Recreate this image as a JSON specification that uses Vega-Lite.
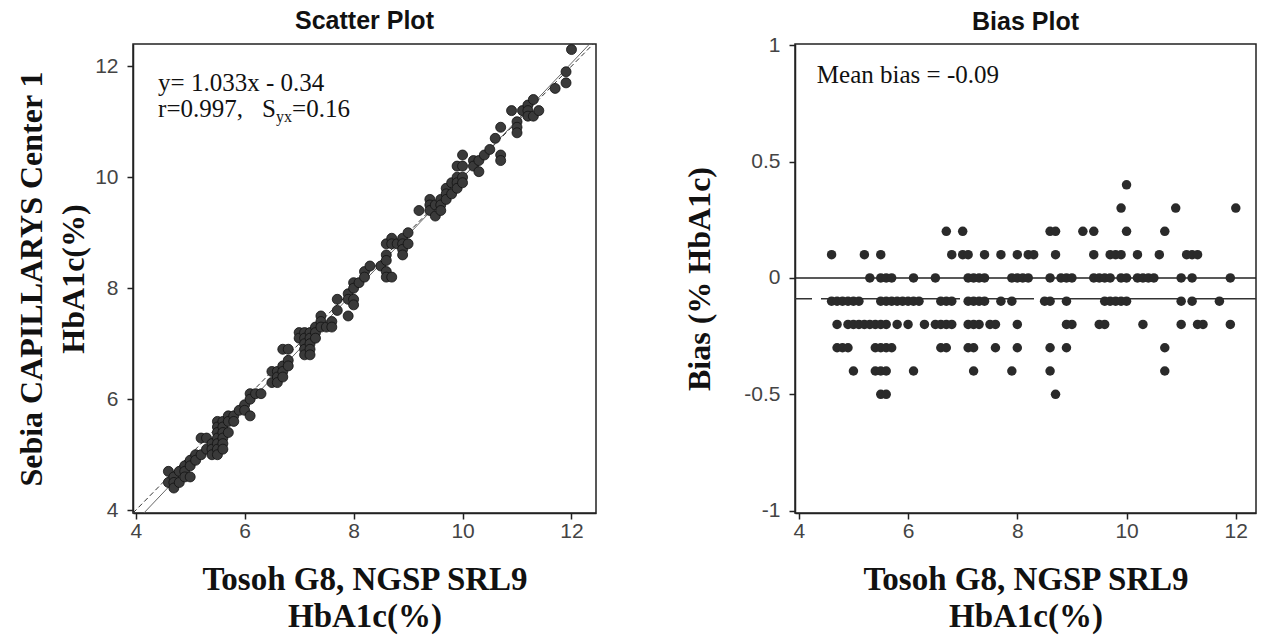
{
  "$schema": "https://vega.github.io/schema/vega-lite/v6.json",
  "background": "white",
  "padding": {"left": 14, "top": 8, "right": 5, "bottom": 5},
  "spacing": 86,
  "config": {
    "view": {"stroke": "#222", "strokeWidth": 1.5},
    "axis": {
      "grid": false,
      "labelFont": "Liberation Sans",
      "labelFontSize": 21,
      "labelColor": "#444",
      "labelPadding": 9,
      "tickSize": 6,
      "tickColor": "#222",
      "tickWidth": 1.5,
      "domainColor": "#222",
      "domainWidth": 1.5,
      "titleFont": "Liberation Serif",
      "titleFontSize": 32,
      "titleFontWeight": "bold",
      "titleColor": "#111",
      "titleLineHeight": 40,
      "labelFlush": false
    },
    "axisX": {"labelPadding": 1, "titlePadding": 22, "titleLineHeight": 37, "titleFontSize": 33},
    "text": {"font": "Liberation Serif", "fontSize": 25, "color": "#111", "align": "left", "baseline": "alphabetic"}
  },
  "datasets": {
    "pts": [
      {"tosoh": 10.0, "bias": 0.4, "sebia": 10.4},
      {"tosoh": 9.9, "bias": 0.3, "sebia": 10.2},
      {"tosoh": 10.9, "bias": 0.3, "sebia": 11.2},
      {"tosoh": 12.0, "bias": 0.3, "sebia": 12.3},
      {"tosoh": 6.7, "bias": 0.2, "sebia": 6.9},
      {"tosoh": 7.0, "bias": 0.2, "sebia": 7.2},
      {"tosoh": 8.6, "bias": 0.2, "sebia": 8.8},
      {"tosoh": 8.7, "bias": 0.2, "sebia": 8.9},
      {"tosoh": 9.2, "bias": 0.2, "sebia": 9.4},
      {"tosoh": 9.4, "bias": 0.2, "sebia": 9.6},
      {"tosoh": 10.0, "bias": 0.2, "sebia": 10.2},
      {"tosoh": 10.7, "bias": 0.2, "sebia": 10.9},
      {"tosoh": 4.6, "bias": 0.1, "sebia": 4.7},
      {"tosoh": 5.2, "bias": 0.1, "sebia": 5.3},
      {"tosoh": 5.5, "bias": 0.1, "sebia": 5.6},
      {"tosoh": 6.8, "bias": 0.1, "sebia": 6.9},
      {"tosoh": 7.0, "bias": 0.1, "sebia": 7.1},
      {"tosoh": 7.1, "bias": 0.1, "sebia": 7.2},
      {"tosoh": 7.4, "bias": 0.1, "sebia": 7.5},
      {"tosoh": 7.7, "bias": 0.1, "sebia": 7.8},
      {"tosoh": 8.0, "bias": 0.1, "sebia": 8.1},
      {"tosoh": 8.2, "bias": 0.1, "sebia": 8.3},
      {"tosoh": 8.3, "bias": 0.1, "sebia": 8.4},
      {"tosoh": 8.7, "bias": 0.1, "sebia": 8.8},
      {"tosoh": 9.4, "bias": 0.1, "sebia": 9.5},
      {"tosoh": 9.7, "bias": 0.1, "sebia": 9.8},
      {"tosoh": 9.8, "bias": 0.1, "sebia": 9.9},
      {"tosoh": 9.9, "bias": 0.1, "sebia": 10.0},
      {"tosoh": 10.2, "bias": 0.1, "sebia": 10.3},
      {"tosoh": 10.6, "bias": 0.1, "sebia": 10.7},
      {"tosoh": 11.1, "bias": 0.1, "sebia": 11.2},
      {"tosoh": 11.2, "bias": 0.1, "sebia": 11.3},
      {"tosoh": 11.3, "bias": 0.1, "sebia": 11.4},
      {"tosoh": 5.3, "bias": 0, "sebia": 5.3},
      {"tosoh": 5.5, "bias": 0, "sebia": 5.5},
      {"tosoh": 5.6, "bias": 0, "sebia": 5.6},
      {"tosoh": 5.7, "bias": 0, "sebia": 5.7},
      {"tosoh": 6.1, "bias": 0, "sebia": 6.1},
      {"tosoh": 6.5, "bias": 0, "sebia": 6.5},
      {"tosoh": 7.1, "bias": 0, "sebia": 7.1},
      {"tosoh": 7.2, "bias": 0, "sebia": 7.2},
      {"tosoh": 7.3, "bias": 0, "sebia": 7.3},
      {"tosoh": 7.4, "bias": 0, "sebia": 7.4},
      {"tosoh": 7.9, "bias": 0, "sebia": 7.9},
      {"tosoh": 8.0, "bias": 0, "sebia": 8.0},
      {"tosoh": 8.1, "bias": 0, "sebia": 8.1},
      {"tosoh": 8.2, "bias": 0, "sebia": 8.2},
      {"tosoh": 8.6, "bias": 0, "sebia": 8.6},
      {"tosoh": 8.8, "bias": 0, "sebia": 8.8},
      {"tosoh": 8.9, "bias": 0, "sebia": 8.9},
      {"tosoh": 9.0, "bias": 0, "sebia": 9.0},
      {"tosoh": 9.4, "bias": 0, "sebia": 9.4},
      {"tosoh": 9.5, "bias": 0, "sebia": 9.5},
      {"tosoh": 9.6, "bias": 0, "sebia": 9.6},
      {"tosoh": 9.7, "bias": 0, "sebia": 9.7},
      {"tosoh": 9.9, "bias": 0, "sebia": 9.9},
      {"tosoh": 10.0, "bias": 0, "sebia": 10.0},
      {"tosoh": 10.2, "bias": 0, "sebia": 10.2},
      {"tosoh": 10.3, "bias": 0, "sebia": 10.3},
      {"tosoh": 10.4, "bias": 0, "sebia": 10.4},
      {"tosoh": 10.5, "bias": 0, "sebia": 10.5},
      {"tosoh": 11.0, "bias": 0, "sebia": 11.0},
      {"tosoh": 11.2, "bias": 0, "sebia": 11.2},
      {"tosoh": 11.9, "bias": 0, "sebia": 11.9},
      {"tosoh": 4.6, "bias": -0.1, "sebia": 4.5},
      {"tosoh": 4.7, "bias": -0.1, "sebia": 4.6},
      {"tosoh": 4.8, "bias": -0.1, "sebia": 4.7},
      {"tosoh": 4.9, "bias": -0.1, "sebia": 4.8},
      {"tosoh": 5.0, "bias": -0.1, "sebia": 4.9},
      {"tosoh": 5.1, "bias": -0.1, "sebia": 5.0},
      {"tosoh": 5.5, "bias": -0.1, "sebia": 5.4},
      {"tosoh": 5.6, "bias": -0.1, "sebia": 5.5},
      {"tosoh": 5.7, "bias": -0.1, "sebia": 5.6},
      {"tosoh": 5.8, "bias": -0.1, "sebia": 5.7},
      {"tosoh": 5.9, "bias": -0.1, "sebia": 5.8},
      {"tosoh": 6.0, "bias": -0.1, "sebia": 5.9},
      {"tosoh": 6.1, "bias": -0.1, "sebia": 6.0},
      {"tosoh": 6.2, "bias": -0.1, "sebia": 6.1},
      {"tosoh": 6.6, "bias": -0.1, "sebia": 6.5},
      {"tosoh": 6.7, "bias": -0.1, "sebia": 6.6},
      {"tosoh": 6.8, "bias": -0.1, "sebia": 6.7},
      {"tosoh": 7.1, "bias": -0.1, "sebia": 7.0},
      {"tosoh": 7.2, "bias": -0.1, "sebia": 7.1},
      {"tosoh": 7.3, "bias": -0.1, "sebia": 7.2},
      {"tosoh": 7.4, "bias": -0.1, "sebia": 7.3},
      {"tosoh": 7.7, "bias": -0.1, "sebia": 7.6},
      {"tosoh": 7.9, "bias": -0.1, "sebia": 7.8},
      {"tosoh": 8.5, "bias": -0.1, "sebia": 8.4},
      {"tosoh": 8.6, "bias": -0.1, "sebia": 8.5},
      {"tosoh": 8.9, "bias": -0.1, "sebia": 8.8},
      {"tosoh": 9.6, "bias": -0.1, "sebia": 9.5},
      {"tosoh": 9.7, "bias": -0.1, "sebia": 9.6},
      {"tosoh": 9.8, "bias": -0.1, "sebia": 9.7},
      {"tosoh": 9.9, "bias": -0.1, "sebia": 9.8},
      {"tosoh": 10.0, "bias": -0.1, "sebia": 9.9},
      {"tosoh": 11.0, "bias": -0.1, "sebia": 10.9},
      {"tosoh": 11.2, "bias": -0.1, "sebia": 11.1},
      {"tosoh": 11.7, "bias": -0.1, "sebia": 11.6},
      {"tosoh": 4.7, "bias": -0.2, "sebia": 4.5},
      {"tosoh": 4.9, "bias": -0.2, "sebia": 4.7},
      {"tosoh": 5.0, "bias": -0.2, "sebia": 4.8},
      {"tosoh": 5.1, "bias": -0.2, "sebia": 4.9},
      {"tosoh": 5.2, "bias": -0.2, "sebia": 5.0},
      {"tosoh": 5.3, "bias": -0.2, "sebia": 5.1},
      {"tosoh": 5.4, "bias": -0.2, "sebia": 5.2},
      {"tosoh": 5.5, "bias": -0.2, "sebia": 5.3},
      {"tosoh": 5.6, "bias": -0.2, "sebia": 5.4},
      {"tosoh": 5.8, "bias": -0.2, "sebia": 5.6},
      {"tosoh": 6.0, "bias": -0.2, "sebia": 5.8},
      {"tosoh": 6.3, "bias": -0.2, "sebia": 6.1},
      {"tosoh": 6.5, "bias": -0.2, "sebia": 6.3},
      {"tosoh": 6.6, "bias": -0.2, "sebia": 6.4},
      {"tosoh": 6.7, "bias": -0.2, "sebia": 6.5},
      {"tosoh": 6.8, "bias": -0.2, "sebia": 6.6},
      {"tosoh": 7.1, "bias": -0.2, "sebia": 6.9},
      {"tosoh": 7.2, "bias": -0.2, "sebia": 7.0},
      {"tosoh": 7.3, "bias": -0.2, "sebia": 7.1},
      {"tosoh": 7.5, "bias": -0.2, "sebia": 7.3},
      {"tosoh": 7.6, "bias": -0.2, "sebia": 7.4},
      {"tosoh": 8.0, "bias": -0.2, "sebia": 7.8},
      {"tosoh": 8.9, "bias": -0.2, "sebia": 8.7},
      {"tosoh": 9.0, "bias": -0.2, "sebia": 8.8},
      {"tosoh": 9.5, "bias": -0.2, "sebia": 9.3},
      {"tosoh": 9.6, "bias": -0.2, "sebia": 9.4},
      {"tosoh": 10.3, "bias": -0.2, "sebia": 10.1},
      {"tosoh": 11.0, "bias": -0.2, "sebia": 10.8},
      {"tosoh": 11.3, "bias": -0.2, "sebia": 11.1},
      {"tosoh": 11.4, "bias": -0.2, "sebia": 11.2},
      {"tosoh": 11.9, "bias": -0.2, "sebia": 11.7},
      {"tosoh": 4.7, "bias": -0.3, "sebia": 4.4},
      {"tosoh": 4.8, "bias": -0.3, "sebia": 4.5},
      {"tosoh": 4.9, "bias": -0.3, "sebia": 4.6},
      {"tosoh": 5.4, "bias": -0.3, "sebia": 5.1},
      {"tosoh": 5.5, "bias": -0.3, "sebia": 5.2},
      {"tosoh": 5.6, "bias": -0.3, "sebia": 5.3},
      {"tosoh": 5.7, "bias": -0.3, "sebia": 5.4},
      {"tosoh": 6.6, "bias": -0.3, "sebia": 6.3},
      {"tosoh": 6.7, "bias": -0.3, "sebia": 6.4},
      {"tosoh": 7.1, "bias": -0.3, "sebia": 6.8},
      {"tosoh": 7.2, "bias": -0.3, "sebia": 6.9},
      {"tosoh": 7.6, "bias": -0.3, "sebia": 7.3},
      {"tosoh": 8.0, "bias": -0.3, "sebia": 7.7},
      {"tosoh": 8.6, "bias": -0.3, "sebia": 8.3},
      {"tosoh": 8.9, "bias": -0.3, "sebia": 8.6},
      {"tosoh": 10.7, "bias": -0.3, "sebia": 10.4},
      {"tosoh": 5.0, "bias": -0.4, "sebia": 4.6},
      {"tosoh": 5.4, "bias": -0.4, "sebia": 5.0},
      {"tosoh": 5.5, "bias": -0.4, "sebia": 5.1},
      {"tosoh": 5.6, "bias": -0.4, "sebia": 5.2},
      {"tosoh": 6.1, "bias": -0.4, "sebia": 5.7},
      {"tosoh": 7.2, "bias": -0.4, "sebia": 6.8},
      {"tosoh": 7.9, "bias": -0.4, "sebia": 7.5},
      {"tosoh": 8.6, "bias": -0.4, "sebia": 8.2},
      {"tosoh": 10.7, "bias": -0.4, "sebia": 10.3},
      {"tosoh": 5.5, "bias": -0.5, "sebia": 5.0},
      {"tosoh": 5.6, "bias": -0.5, "sebia": 5.1},
      {"tosoh": 8.7, "bias": -0.5, "sebia": 8.2}
    ]
  },
  "hconcat": [
    {
      "width": 463,
      "height": 469,
      "title": {"text": "Scatter Plot", "font": "Liberation Sans", "fontSize": 25, "fontWeight": "bold", "color": "#111", "offset": 9},
      "encoding": {
        "x": {"field": "tosoh", "type": "quantitative", "scale": {"domain": [3.95, 12.45], "nice": false, "zero": false},
              "axis": {"values": [4, 6, 8, 10, 12], "title": ["Tosoh G8, NGSP SRL9", "HbA1c(%)"]}},
        "y": {"field": "sebia", "type": "quantitative", "scale": {"domain": [3.95, 12.4], "nice": false, "zero": false},
              "axis": {"values": [4, 6, 8, 10, 12], "title": ["Sebia CAPILLARYS  Center 1", "HbA1c(%)"], "titlePadding": 4, "titleLineHeight": 42}}
      },
      "layer": [
        {
          "data": {"values": [{"tosoh": 3.95, "sebia": 3.95}, {"tosoh": 12.45, "sebia": 12.45}]},
          "mark": {"type": "line", "color": "#333", "strokeWidth": 1, "strokeDash": [5, 3], "clip": true}
        },
        {
          "data": {"values": [{"tosoh": 4.15, "sebia": 3.95}, {"tosoh": 12.4, "sebia": 12.47}]},
          "mark": {"type": "line", "color": "#666", "strokeWidth": 1, "clip": true}
        },
        {
          "data": {"name": "pts"},
          "mark": {"type": "point", "shape": "circle", "filled": true, "size": 100, "color": "#3a3a3a", "stroke": "#111", "strokeWidth": 0.8, "opacity": 1}
        },
        {
          "data": {"values": [
            {"tosoh": 4.41, "sebia": 11.56, "label": "y= 1.033x - 0.34"},
            {"tosoh": 4.41, "sebia": 11.08, "label": "r=0.997,"}
          ]},
          "mark": {"type": "text"},
          "encoding": {"text": {"field": "label"}}
        },
        {
          "data": {"values": [{"tosoh": 4.41, "sebia": 11.08, "label": "S"}]},
          "mark": {"type": "text", "dx": 104},
          "encoding": {"text": {"field": "label"}}
        },
        {
          "data": {"values": [{"tosoh": 4.41, "sebia": 11.08, "label": "yx"}]},
          "mark": {"type": "text", "fontSize": 16, "dx": 118, "dy": 5},
          "encoding": {"text": {"field": "label"}}
        },
        {
          "data": {"values": [{"tosoh": 4.41, "sebia": 11.08, "label": "=0.16"}]},
          "mark": {"type": "text", "dx": 134},
          "encoding": {"text": {"field": "label"}}
        }
      ]
    },
    {
      "width": 461,
      "height": 469,
      "title": {"text": "Bias Plot", "font": "Liberation Sans", "fontSize": 25, "fontWeight": "bold", "color": "#111", "offset": -1},
      "encoding": {
        "y": {"field": "bias", "type": "quantitative", "scale": {"domain": [-1.01, 1.005], "nice": false, "zero": false},
              "axis": {"values": [-1, -0.5, 0, 0.5, 1], "labelExpr": "datum.value + ''", "title": "Bias (% HbA1c)", "titlePadding": 27}}
      },
      "layer": [
        {
          "data": {"values": [{"bias": 0}]},
          "mark": {"type": "rule", "color": "#222", "strokeWidth": 1.5}
        },
        {
          "data": {"values": [{"bias": -0.09}]},
          "mark": {"type": "rule", "color": "#333", "strokeWidth": 1.5, "strokeDash": [65, 9]}
        },
        {
          "data": {"name": "pts"},
          "mark": {"type": "point", "shape": "circle", "filled": true, "size": 90, "color": "#2a2a2a", "opacity": 1},
          "encoding": {
            "x": {"field": "tosoh", "type": "quantitative", "scale": {"domain": [3.93, 12.37], "nice": false, "zero": false},
                  "axis": {"values": [4, 6, 8, 10, 12], "title": ["Tosoh G8, NGSP SRL9", "HbA1c(%)"]}}
          }
        },
        {
          "data": {"values": [{"tosoh": 4.33, "bias": 0.837, "label": "Mean bias = -0.09"}]},
          "mark": {"type": "text"},
          "encoding": {
            "x": {"field": "tosoh", "type": "quantitative", "scale": {"domain": [3.93, 12.37], "nice": false, "zero": false},
                  "axis": {"values": [4, 6, 8, 10, 12], "title": ["Tosoh G8, NGSP SRL9", "HbA1c(%)"]}},
            "text": {"field": "label"}
          }
        }
      ]
    }
  ]
}
